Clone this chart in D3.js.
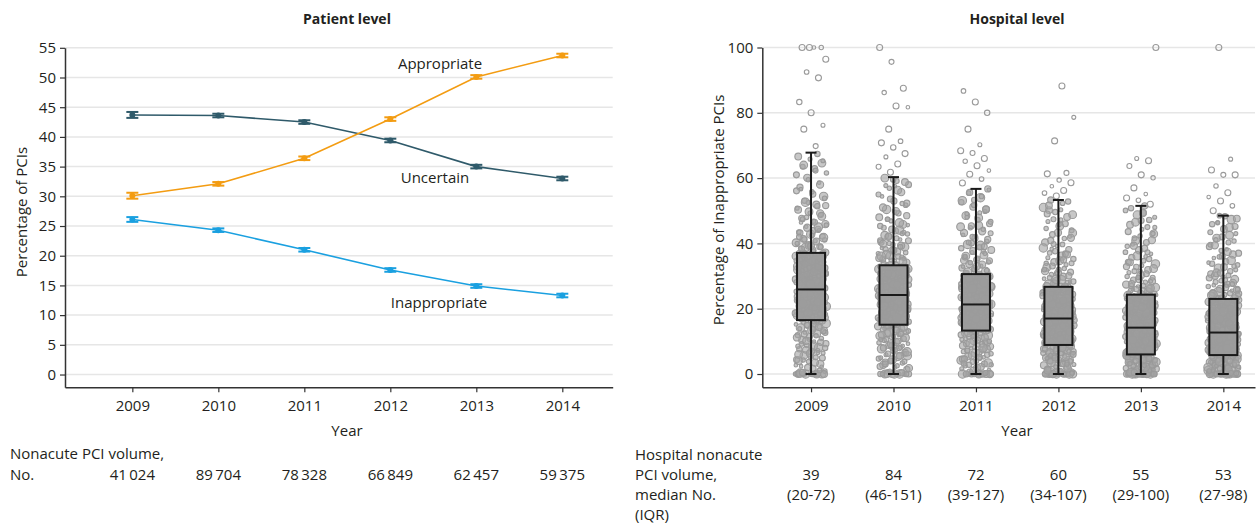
<!DOCTYPE html>
<html>
<head>
<meta charset="utf-8">
<script src="https://cdn.jsdelivr.net/npm/d3@7"></script>
<style>
  html, body { margin: 0; padding: 0; background: #fff; }
  svg { display: block; font-family: "Open Sans", "Noto Sans", sans-serif; }
</style>
</head>
<body>
<svg id="chart" width="1260" height="524"></svg>
<script>
// ---------- Patient level: share of PCIs by appropriateness ----------
const years = [2009, 2010, 2011, 2012, 2013, 2014];
const patientTicks = [0, 5, 10, 15, 20, 25, 30, 35, 40, 45, 50, 55];

const appropriate      = [30.1, 32.1, 36.4, 43.0, 50.1, 53.7];
const appropriateLo    = [29.6, 31.8, 36.1, 42.7, 49.8, 53.4];
const appropriateHi    = [30.6, 32.4, 36.7, 43.3, 50.4, 54.0];
const uncertain        = [43.7, 43.6, 42.5, 39.4, 35.0, 33.0];
const uncertainLo      = [43.2, 43.3, 42.2, 39.1, 34.7, 32.7];
const uncertainHi      = [44.2, 43.9, 42.8, 39.7, 35.3, 33.3];
const inappropriate    = [26.1, 24.3, 21.0, 17.6, 14.9, 13.3];
const inappropriateLo  = [25.7, 24.0, 20.7, 17.3, 14.6, 13.0];
const inappropriateHi  = [26.5, 24.6, 21.3, 17.9, 15.2, 13.6];

const pciVolume = ["41\u2009024", "89\u2009704", "78\u2009328", "66\u2009849", "62\u2009457", "59\u2009375"];

// ---------- Hospital level: % inappropriate PCIs per hospital ----------
const hospitalTicks = [0, 20, 40, 60, 80, 100];
const boxQ1      = [16.5, 15.1, 13.3, 8.9, 6.0, 5.8];
const boxMedian  = [25.9, 24.2, 21.3, 17.0, 14.2, 12.7];
const boxQ3      = [37.1, 33.3, 30.6, 26.7, 24.3, 23.0];
const whiskerLow = [0, 0, 0, 0, 0, 0];
const whiskerHigh= [67.8, 60.3, 56.7, 53.3, 51.5, 48.5];

const hospMedianVolume = ["39", "84", "72", "60", "55", "53"];
const hospIqrVolume    = ["(20-72)", "(46-151)", "(39-127)", "(34-107)", "(29-100)", "(27-98)"];

const hosp2009 = [
  0,0,0,0,0,0,0,0,0.9,1.7,2.4,3.1,3.8,4.4,5.1,5.7,6.4,6.9,7.6,8.1,8.8,9.3,9.9,10.4,10.9,11.5,11.9,12.4,12.8,13.3,13.7,14.1,14.5,14.9,15.2,15.6,15.9,16.2,16.4,4.1,7.2,10.1,12.6,14.7,
  16.7,17.1,17.4,17.8,18.1,18.5,18.9,19.2,19.6,19.9,20.3,20.7,21.0,21.4,21.8,22.1,22.5,22.8,23.2,23.5,23.9,24.3,24.6,25.0,25.3,25.7,17.6,19.4,20.9,22.3,23.7,24.9,18.3,21.2,24.1,25.5,19.8,22.6,
  26.1,26.5,26.9,27.3,27.8,28.2,28.6,29.0,29.5,29.9,30.3,30.8,31.2,31.6,32.1,32.5,32.9,33.4,33.8,34.2,34.7,35.1,35.5,36.0,36.4,36.8,27.1,28.9,30.6,32.3,34.0,35.8,29.3,31.9,34.5,36.6,
  37.4,37.9,38.5,39.0,39.6,40.2,40.8,41.4,42.1,42.8,43.5,44.3,45.1,45.9,46.8,47.7,48.7,49.7,50.8,51.9,53.1,54.4,55.8,57.2,58.6,60.1,61.6,62.9,63.5,64.6,65.8,66.6,67.4,38.8,41.1,43.9,46.4,49.2,52.5,56.1,
  69.8,75.0,76.2,80.0,83.3,90.7,92.5,96.4,100,100,100,100,
  0,0,0,0,0,0.3,1.1,2.0,2.7,3.5,4.3,4.9,5.4,6.0,6.6,7.4,8.0,8.6,9.2,9.7,10.6,11.2,11.7,12.2,13.1,13.5,13.9,14.4,15.0,15.5,16.0,0.5,2.2,6.3,8.5,
  16.6,16.9,17.3,17.7,18.0,18.4,18.7,19.0,19.3,19.7,20.1,20.4,20.8,21.1,21.5,21.9,22.2,22.6,23.0,23.4,23.7,24.0,24.4,24.7,25.2,25.6,25.8,17.2,18.6,20.2,21.6,23.1,24.5,19.5,22.0,
  26.0,26.3,26.7,27.0,27.4,27.7,28.1,28.4,28.8,29.1,29.4,29.8,30.1,30.5,30.9,31.4,31.8,32.2,32.6,33.0,33.3,33.7,34.3,34.6,35.0,35.4,35.7,36.1,36.5,36.9,37.0,27.6,30.0,32.8,35.3,
  37.2,37.7,38.3,38.9,39.4,40.0,40.6,41.2,41.8,42.5,43.2,44.0,44.8,45.6,46.5,47.4,48.3,49.3,50.3,51.4,52.6,53.8,55.1,56.6,58.0,59.5,61.0,62.3,64.0,65.3,39.2,42.0,45.0,48.0,51.6
];
const hosp2010 = [
  0,0,0,0,0,0,0,0,0.7,1.4,2.1,2.8,3.4,4.0,4.7,5.3,5.9,6.5,7.1,7.7,8.2,8.8,9.3,9.8,10.3,10.8,11.3,11.7,12.1,12.5,12.9,13.3,13.6,14.0,14.3,14.6,14.9,3.7,6.2,8.5,10.6,12.7,14.4,5.6,
  15.3,15.6,16.0,16.3,16.7,17.0,17.4,17.7,18.1,18.4,18.8,19.1,19.5,19.8,20.2,20.5,20.9,21.2,21.6,21.9,22.3,22.6,23.0,23.3,23.7,24.0,16.1,17.9,19.3,20.7,22.0,23.5,18.6,21.4,23.9,16.8,20.0,22.8,
  24.4,24.8,25.1,25.5,25.8,26.2,26.6,26.9,27.3,27.7,28.0,28.4,28.8,29.1,29.5,29.9,30.2,30.6,31.0,31.3,31.7,32.1,32.4,32.8,33.1,25.3,27.0,28.6,30.4,32.2,26.3,29.7,31.9,27.9,33.0,24.9,
  33.6,34.1,34.6,35.1,35.7,36.3,36.9,37.5,38.2,38.9,39.6,40.4,41.2,42.0,42.9,43.8,44.8,45.8,46.9,48.0,49.2,50.4,51.7,53.0,54.4,55.7,56.9,58.0,59.1,60.0,35.4,37.8,40.9,44.1,47.4,52.3,57.5,39.9,43.0,
  61.8,63.5,64.3,66.5,67.5,69.4,70.8,71.3,75.0,81.7,82.1,86.2,87.5,95.6,100,
  0,0,0,0,0,0.4,1.0,1.8,2.5,3.1,3.8,4.4,5.0,5.6,6.2,6.8,7.4,8.0,8.6,9.1,9.6,10.1,10.6,11.1,11.5,12.0,12.3,12.8,13.2,13.5,13.9,14.2,14.8,2.3,7.9,
  15.2,15.5,15.8,16.2,16.5,16.9,17.2,17.6,17.9,18.3,18.6,19.0,19.3,19.7,20.1,20.4,20.8,21.1,21.5,21.8,22.2,22.5,22.9,23.2,23.6,23.8,24.1,16.0,17.3,18.8,20.3,21.7,23.4,19.9,22.7,
  24.3,24.6,25.0,25.4,25.7,26.1,26.4,26.8,27.2,27.5,27.9,28.3,28.6,29.0,29.4,29.7,30.1,30.5,30.8,31.2,31.5,31.9,32.3,32.6,33.0,33.2,25.6,27.4,29.2,31.1,32.9,26.7,28.9,30.7,24.7,
  33.5,33.9,34.4,34.9,35.5,36.0,36.6,37.2,37.9,38.6,39.3,40.0,40.8,41.6,42.5,43.4,44.3,45.3,46.3,47.4,48.5,49.7,51.0,52.2,53.6,55.0,56.3,57.7,58.8,59.6,36.1,39.0,42.2,45.6,49.9
];
const hosp2011 = [
  0,0,0,0,0,0,0,0,0,0.6,1.2,1.9,2.5,3.1,3.7,4.2,4.8,5.4,5.9,6.4,6.9,7.4,7.9,8.4,8.9,9.3,9.8,10.2,10.6,11.0,11.4,11.8,12.2,12.5,12.9,13.1,2.8,5.1,7.2,9.6,11.6,4.5,
  13.5,13.8,14.1,14.5,14.8,15.1,15.5,15.8,16.1,16.5,16.8,17.1,17.5,17.8,18.1,18.5,18.8,19.1,19.5,19.8,20.1,20.5,20.8,21.1,14.3,15.9,17.3,18.7,20.0,21.0,16.3,19.3,14.9,17.9,20.6,15.3,
  21.5,21.9,22.3,22.7,23.1,23.5,23.9,24.3,24.7,25.1,25.5,25.9,26.3,26.7,27.1,27.5,27.9,28.3,28.7,29.1,29.5,29.9,30.3,22.5,24.1,25.8,27.6,29.3,23.3,26.1,28.9,30.1,24.6,27.2,22.0,29.6,
  30.9,31.4,31.9,32.5,33.1,33.7,34.3,35.0,35.7,36.4,37.2,38.0,38.8,39.7,40.6,41.6,42.6,43.7,44.8,46.0,47.2,48.5,49.8,51.2,52.6,54.0,55.4,56.7,32.2,34.8,37.6,40.1,43.1,45.5,48.0,50.5,53.3,
  58.5,59.7,61.2,62.3,63.8,65.2,66.0,67.7,68.4,70.2,75.0,80.0,83.3,86.7,
  0,0,0,0,0,0.3,0.9,1.6,2.2,2.8,3.4,4.0,4.6,5.1,5.7,6.2,6.7,7.2,7.7,8.2,8.7,9.1,9.5,10.0,10.4,10.8,11.2,11.6,12.0,12.4,12.7,13.0,13.2,3.2,8.0,
  13.4,13.7,14.0,14.3,14.6,15.0,15.3,15.6,16.0,16.3,16.6,17.0,17.3,17.6,18.0,18.3,18.6,19.0,19.3,19.6,20.0,20.3,20.6,21.0,21.2,14.1,15.7,17.2,18.9,20.4,13.9,16.9,19.8,15.4,18.2,
  21.4,21.8,22.2,22.6,23.0,23.4,23.8,24.2,24.6,25.0,25.4,25.8,26.2,26.6,27.0,27.4,27.8,28.2,28.6,29.0,29.4,29.8,30.2,30.5,22.9,24.4,26.0,27.7,29.2,30.4,23.6,25.6,28.0,21.7,26.9,
  30.7,31.2,31.7,32.3,32.9,33.5,34.1,34.7,35.4,36.1,36.9,37.7,38.5,39.4,40.3,41.2,42.2,43.2,44.3,45.4,46.6,47.8,49.1,50.4,51.8,53.1,54.4,55.6,56.4,33.0,36.0,39.0,42.0,45.1,49.4
];
const hosp2012 = [
  0,0,0,0,0,0,0,0,0,0,0,0.5,1.0,1.5,2.0,2.5,2.9,3.3,3.8,4.2,4.6,5.0,5.4,5.8,6.1,6.5,6.8,7.1,7.4,7.7,8.0,8.3,8.6,8.8,1.8,3.6,5.2,6.9,8.2,4.4,2.3,7.9,
  9.1,9.4,9.7,10.0,10.4,10.7,11.0,11.4,11.7,12.0,12.4,12.7,13.0,13.4,13.7,14.0,14.4,14.7,15.0,15.4,15.7,16.0,16.4,16.7,9.9,11.2,12.6,13.9,15.2,16.5,10.5,13.2,15.8,11.8,14.2,16.9,
  17.3,17.7,18.1,18.5,18.9,19.3,19.7,20.1,20.5,20.9,21.3,21.7,22.1,22.6,23.0,23.4,23.8,24.2,24.7,25.1,25.5,25.9,26.3,18.3,19.9,21.6,23.2,24.9,26.5,20.7,22.8,25.3,17.9,19.1,22.4,24.4,
  27.0,27.5,28.0,28.6,29.2,29.8,30.5,31.2,31.9,32.7,33.5,34.3,35.2,36.1,37.1,38.1,39.2,40.3,41.5,42.7,44.0,45.3,46.7,48.1,49.6,51.0,52.3,53.3,28.3,30.9,33.9,36.8,39.8,43.2,47.2,50.2,26.9,
  54.5,55.4,56.2,57.5,58.6,59.4,61.3,61.6,71.4,78.6,88.2,
  0,0,0,0,0,0,0.3,0.8,1.3,1.8,2.2,2.7,3.1,3.5,4.0,4.4,4.8,5.2,5.6,6.0,6.3,6.7,7.0,7.3,7.6,7.9,8.2,8.5,8.7,1.1,3.0,4.9,6.4,8.1,5.7,
  9.0,9.3,9.6,9.9,10.2,10.6,10.9,11.2,11.5,11.9,12.2,12.5,12.9,13.2,13.5,13.9,14.2,14.5,14.9,15.2,15.5,15.9,16.2,16.6,16.8,9.5,10.8,12.3,13.6,15.1,16.4,11.6,14.7,10.1,13.0,
  17.1,17.5,17.9,18.3,18.7,19.1,19.5,19.9,20.3,20.7,21.1,21.5,21.9,22.3,22.8,23.2,23.6,24.0,24.5,24.9,25.3,25.7,26.1,26.5,18.0,19.6,21.4,23.3,25.0,26.6,20.2,22.5,24.7,17.6,21.0,
  26.8,27.2,27.8,28.3,28.9,29.5,30.1,30.8,31.5,32.3,33.1,33.9,34.7,35.6,36.6,37.6,38.6,39.7,40.9,42.1,43.3,44.6,46.0,47.4,48.8,50.3,51.6,52.8,29.0,32.0,35.0,38.3,41.7,45.8,49.0
];
const hosp2013 = [
  0,0,0,0,0,0,0,0,0,0,0,0,0,0,0.4,0.8,1.2,1.6,2.0,2.3,2.7,3.0,3.3,3.6,3.9,4.2,4.5,4.8,5.0,5.3,5.5,5.8,1.4,2.5,3.4,4.4,5.2,0.9,2.9,4.0,5.6,1.9,
  6.2,6.5,6.9,7.2,7.6,7.9,8.3,8.6,9.0,9.3,9.7,10.0,10.4,10.7,11.1,11.4,11.8,12.1,12.5,12.8,13.2,13.5,13.9,7.0,8.1,9.5,10.9,12.3,13.7,6.6,8.9,11.6,14.0,7.7,10.2,12.9,
  14.5,14.9,15.3,15.7,16.1,16.6,17.0,17.4,17.8,18.3,18.7,19.1,19.6,20.0,20.4,20.9,21.3,21.7,22.2,22.6,23.1,23.5,24.0,15.5,17.2,19.0,20.7,22.4,24.2,16.3,18.9,21.5,23.8,14.7,18.1,20.2,
  24.6,25.1,25.6,26.2,26.8,27.4,28.1,28.8,29.5,30.3,31.1,31.9,32.8,33.7,34.7,35.7,36.8,37.9,39.1,40.3,41.6,42.9,44.3,45.7,47.2,48.7,50.1,51.5,25.9,28.4,31.5,34.2,37.3,40.8,44.9,49.3,27.0,
  52.0,53.2,53.9,55.1,57.0,60.1,61.0,63.7,65.3,66.0,100,
  0,0,0,0,0,0,0,0,0.2,0.6,1.0,1.4,1.8,2.1,2.4,2.8,3.1,3.5,3.8,4.1,4.3,4.6,4.9,5.1,5.4,5.7,5.9,0.5,1.3,2.2,3.2,4.7,5.5,3.7,2.6,
  6.1,6.4,6.8,7.1,7.4,7.8,8.1,8.5,8.8,9.2,9.5,9.9,10.2,10.6,10.9,11.3,11.6,12.0,12.3,12.7,13.0,13.4,13.7,14.1,6.7,8.0,9.4,10.8,12.2,13.6,7.5,9.0,11.5,13.1,10.5,
  14.3,14.7,15.1,15.5,15.9,16.4,16.8,17.2,17.6,18.0,18.5,18.9,19.3,19.8,20.2,20.6,21.1,21.5,21.9,22.4,22.8,23.3,23.7,24.1,15.2,17.0,18.8,20.5,22.3,24.0,16.0,19.4,22.0,14.4,21.2,
  24.4,24.9,25.4,26.0,26.5,27.1,27.7,28.4,29.1,29.9,30.7,31.5,32.3,33.2,34.2,35.2,36.2,37.3,38.5,39.7,41.0,42.3,43.6,45.0,46.5,48.0,49.4,50.8,26.3,29.6,32.9,36.0,39.3,43.0,47.0
];
const hosp2014 = [
  0,0,0,0,0,0,0,0,0,0,0,0,0,0,0.4,0.8,1.2,1.5,1.9,2.3,2.6,2.9,3.3,3.6,3.9,4.2,4.5,4.8,5.0,5.3,5.6,1.1,2.1,3.1,4.0,5.1,0.6,2.8,4.6,5.7,1.7,3.5,
  6.0,6.3,6.6,6.9,7.2,7.5,7.8,8.1,8.5,8.8,9.1,9.4,9.7,10.0,10.3,10.7,11.0,11.3,11.6,11.9,12.2,12.5,6.5,7.4,8.3,9.2,10.2,11.1,12.0,7.0,8.9,10.5,12.4,6.8,9.9,11.5,
  13.0,13.4,13.8,14.3,14.7,15.1,15.6,16.0,16.4,16.9,17.3,17.7,18.2,18.6,19.0,19.5,19.9,20.3,20.8,21.2,21.6,22.1,22.5,22.9,14.0,15.8,17.5,19.3,21.0,22.7,16.6,18.9,13.6,20.5,15.3,18.0,
  23.3,23.8,24.3,24.9,25.5,26.1,26.8,27.5,28.2,29.0,29.8,30.6,31.5,32.4,33.4,34.4,35.5,36.6,37.8,39.0,40.3,41.6,43.0,44.4,45.9,47.3,48.5,24.6,27.1,30.1,33.0,36.1,39.6,42.5,46.4,25.8,28.7,
  50.0,51.5,53.0,54.2,55.5,57.6,61.0,61.0,62.5,65.8,100,
  0,0,0,0,0,0,0,0,0.2,0.6,1.0,1.3,1.7,2.0,2.4,2.7,3.0,3.4,3.7,4.0,4.3,4.6,4.9,5.2,5.4,5.7,0.9,1.8,2.5,3.2,4.4,5.5,0.3,3.8,2.2,
  5.9,6.2,6.5,6.8,7.1,7.4,7.7,8.0,8.3,8.6,9.0,9.3,9.6,9.9,10.2,10.5,10.9,11.2,11.5,11.8,12.1,12.4,12.6,6.4,7.3,8.2,9.1,10.0,11.0,11.9,6.9,8.7,10.4,12.3,7.9,
  12.8,13.2,13.6,14.1,14.5,14.9,15.4,15.8,16.2,16.7,17.1,17.5,18.0,18.4,18.8,19.3,19.7,20.1,20.6,21.0,21.4,21.9,22.3,22.8,13.9,15.6,17.4,19.1,20.9,22.6,14.4,16.8,18.6,21.8,16.1,
  23.1,23.6,24.1,24.7,25.3,25.9,26.5,27.2,27.9,28.6,29.4,30.2,31.0,31.9,32.8,33.8,34.8,35.9,37.0,38.2,39.4,40.7,42.0,43.4,44.9,46.3,47.6,48.3,24.4,27.6,30.9,34.1,37.4,41.1,45.2
];
const hospitalValues = [hosp2009, hosp2010, hosp2011, hosp2012, hosp2013, hosp2014];

// ---------- drawing ----------
const svg = d3.select("#chart");
const ink = "#231f20";
const gridColor = "#e6e6e6";
const fontSize = 15;
const fontFamily = "Open Sans, Noto Sans, sans-serif";

function label(g, x, y, text, opts = {}) {
  return g.append("text")
    .attr("x", x).attr("y", y)
    .attr("text-anchor", opts.anchor || "middle")
    .attr("dominant-baseline", "central")
    .attr("font-size", opts.size || fontSize)
    .attr("font-weight", opts.weight || "normal")
    .attr("fill", ink)
    .text(text);
}

function styleAxis(g) {
  g.selectAll(".domain").attr("stroke", "#333").attr("stroke-width", 1.5);
  g.selectAll(".tick line").attr("stroke", "#333").attr("stroke-width", 1.2);
  g.selectAll(".tick text").attr("fill", ink).attr("font-size", fontSize).attr("font-family", fontFamily);
}

// ===== Left panel =====
const L = svg.append("g");
const xL = d3.scaleLinear().domain([2008.217, 2014.586]).range([65, 612.7]);
const yL = d3.scaleLinear().domain([-2.15, 55]).range([387.3, 47.8]);

L.append("g").selectAll("line").data(patientTicks).join("line")
  .attr("x1", 65).attr("x2", 612.7)
  .attr("y1", d => yL(d)).attr("y2", d => yL(d))
  .attr("stroke", gridColor).attr("stroke-width", 1.5);

const axLy = L.append("g").attr("transform", "translate(65,0)")
  .call(d3.axisLeft(yL).tickValues(patientTicks).tickSize(5).tickPadding(4).tickSizeOuter(0));
styleAxis(axLy);
const axLx = L.append("g").attr("transform", "translate(0,387.3)")
  .call(d3.axisBottom(xL).tickValues(years).tickFormat(d3.format("d")).tickSize(5).tickPadding(8).tickSizeOuter(0));
styleAxis(axLx);

const series = [
  { name: "Uncertain",     v: uncertain,     lo: uncertainLo,     hi: uncertainHi,     color: "#2f5a6a", lx: 435, ly: 177 },
  { name: "Appropriate",   v: appropriate,   lo: appropriateLo,   hi: appropriateHi,   color: "#f39c12", lx: 440, ly: 63 },
  { name: "Inappropriate", v: inappropriate, lo: inappropriateLo, hi: inappropriateHi, color: "#1aa0e0", lx: 439, ly: 302 }
];
const lineGen = d3.line().x((d, i) => xL(years[i])).y(d => yL(d));
series.forEach(s => {
  const g = L.append("g");
  g.append("path").datum(s.v).attr("d", lineGen)
    .attr("fill", "none").attr("stroke", s.color).attr("stroke-width", 1.6);
  years.forEach((yr, i) => {
    const x = xL(yr);
    g.append("line").attr("x1", x).attr("x2", x).attr("y1", yL(s.lo[i])).attr("y2", yL(s.hi[i]))
      .attr("stroke", s.color).attr("stroke-width", 2);
    [s.lo[i], s.hi[i]].forEach(c => {
      g.append("line").attr("x1", x - 6).attr("x2", x + 6).attr("y1", yL(c)).attr("y2", yL(c))
        .attr("stroke", s.color).attr("stroke-width", 2);
    });
    g.append("circle").attr("cx", x).attr("cy", yL(s.v[i])).attr("r", 3).attr("fill", s.color);
  });
  label(L, s.lx, s.ly, s.name);
});

label(L, 347, 18, "Patient level", { weight: "bold", size: 14 });
label(L, 347, 430, "Year");
L.append("text")
  .attr("transform", "translate(21,212) rotate(-90)")
  .attr("text-anchor", "middle").attr("dominant-baseline", "central")
  .attr("font-size", fontSize).attr("fill", ink)
  .text("Percentage of PCIs");

label(L, 10, 453, "Nonacute PCI volume,", { anchor: "start" });
label(L, 10, 474, "No.", { anchor: "start" });
pciVolume.forEach((t, i) => label(L, xL(years[i]), 474, t));

// ===== Right panel =====
const R = svg.append("g");
const xR = d3.scaleLinear().domain([2008.409, 2014.384]).range([762.3, 1255]);
const yR = d3.scaleLinear().domain([-4.07, 100]).range([387.3, 47.5]);

R.append("g").selectAll("line").data(hospitalTicks).join("line")
  .attr("x1", 762.3).attr("x2", 1255)
  .attr("y1", d => yR(d)).attr("y2", d => yR(d))
  .attr("stroke", gridColor).attr("stroke-width", 1.5);

const axRy = R.append("g").attr("transform", "translate(762.3,0)")
  .call(d3.axisLeft(yR).tickValues(hospitalTicks).tickSize(5).tickPadding(4).tickSizeOuter(0));
styleAxis(axRy);
const axRx = R.append("g").attr("transform", "translate(0,387.3)")
  .call(d3.axisBottom(xR).tickValues(years).tickFormat(d3.format("d")).tickSize(5).tickPadding(8).tickSizeOuter(0));
styleAxis(axRx);

// jittered hospital points: hollow rings, filled more where they pile up
const radii = [2.2, 3.0, 2.5, 3.9, 2.0, 3.4, 2.7, 4.2, 2.3, 3.1, 1.8, 3.6];
const jitterWidth = 31;
hospitalValues.forEach((vals, yi) => {
  const cx = xR(years[yi]);
  const upper = whiskerHigh[yi];
  R.append("g").selectAll("circle").data(vals).join("circle")
    .attr("cx", (d, i) => cx + (((i * 0.6180339887 + yi * 0.37) % 1) - 0.5) * jitterWidth)
    .attr("cy", d => yR(d))
    .attr("r", (d, i) => d > upper ? Math.min(radii[i % radii.length], 3) : radii[i % radii.length])
    .attr("fill", "#a4a4a4").attr("fill-opacity", d => d > upper ? 0 : 0.62)
    .attr("stroke", "#9a9a9a").attr("stroke-width", 1.1);
});

// box plots
const boxW = 28, capW = 11;
years.forEach((yr, i) => {
  const cx = xR(yr);
  const g = R.append("g");
  g.append("line").attr("x1", cx).attr("x2", cx).attr("y1", yR(whiskerHigh[i])).attr("y2", yR(boxQ3[i]))
    .attr("stroke", "#1a1a1a").attr("stroke-width", 2);
  g.append("line").attr("x1", cx).attr("x2", cx).attr("y1", yR(boxQ1[i])).attr("y2", yR(whiskerLow[i]))
    .attr("stroke", "#1a1a1a").attr("stroke-width", 2);
  [whiskerHigh[i], whiskerLow[i]].forEach(w => {
    g.append("line").attr("x1", cx - capW / 2).attr("x2", cx + capW / 2).attr("y1", yR(w)).attr("y2", yR(w))
      .attr("stroke", "#1a1a1a").attr("stroke-width", 2);
  });
  g.append("rect").attr("x", cx - boxW / 2).attr("y", yR(boxQ3[i]))
    .attr("width", boxW).attr("height", yR(boxQ1[i]) - yR(boxQ3[i]))
    .attr("fill", "#9b9b9b").attr("fill-opacity", 0.92)
    .attr("stroke", "#1a1a1a").attr("stroke-width", 2);
  g.append("line").attr("x1", cx - boxW / 2).attr("x2", cx + boxW / 2).attr("y1", yR(boxMedian[i])).attr("y2", yR(boxMedian[i]))
    .attr("stroke", "#1a1a1a").attr("stroke-width", 2);
});

label(R, 1017, 18, "Hospital level", { weight: "bold", size: 14 });
label(R, 1017, 430, "Year");
R.append("text")
  .attr("transform", "translate(718,210) rotate(-90)")
  .attr("text-anchor", "middle").attr("dominant-baseline", "central")
  .attr("font-size", fontSize).attr("fill", ink)
  .text("Percentage of Inappropriate PCIs");

label(R, 635, 454, "Hospital nonacute", { anchor: "start" });
label(R, 635, 474, "PCI volume,", { anchor: "start" });
label(R, 635, 494, "median No.", { anchor: "start" });
label(R, 635, 514, "(IQR)", { anchor: "start" });
hospMedianVolume.forEach((t, i) => label(R, xR(years[i]), 474, t));
hospIqrVolume.forEach((t, i) => label(R, xR(years[i]), 494, t));
</script>
</body>
</html>
